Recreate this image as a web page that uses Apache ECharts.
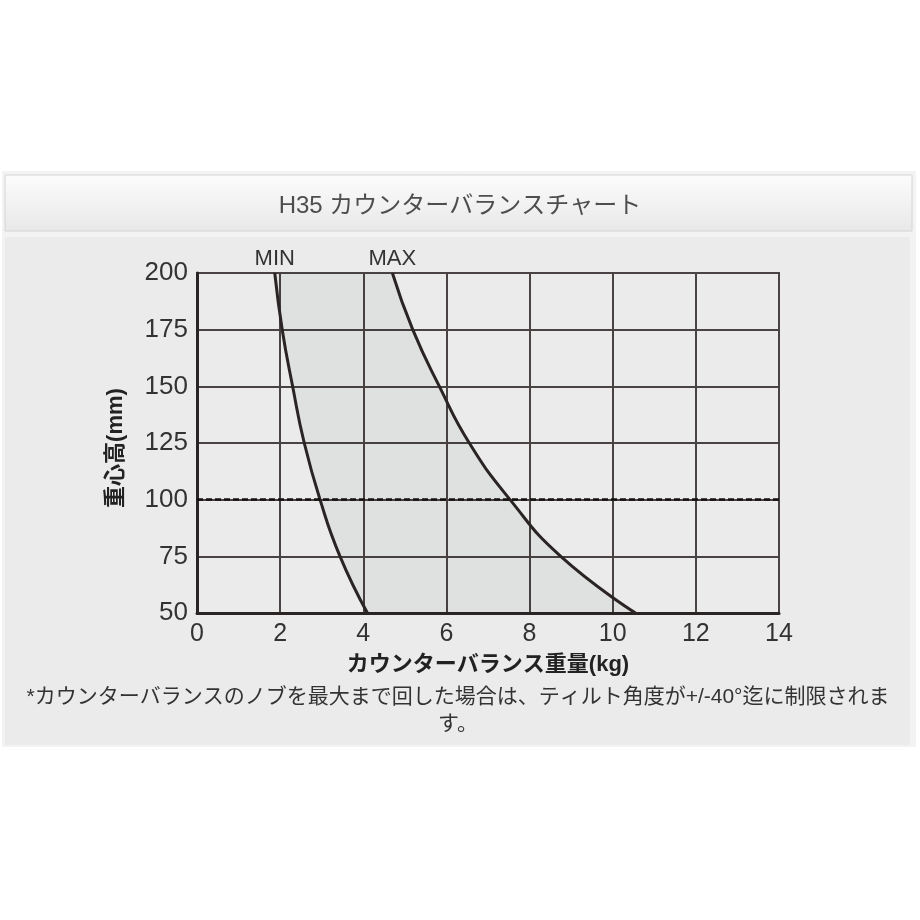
<!DOCTYPE html>
<html>
<head>
<meta charset="utf-8">
<script src="https://cdn.jsdelivr.net/npm/echarts@6/dist/echarts.min.js"></script>
<style>
  html, body { margin: 0; padding: 0; background: #ffffff; }
  #main { width: 920px; height: 920px; }
</style>
</head>
<body>
<div id="main"></div>
<script>
// 重心高 (mm) - y axis categories, bottom to top
var heights = ['50', '75', '100', '125', '150', '175', '200'];
// カウンターバランス重量 (kg) for each height
var minWeight = [4.1, 3.44, 2.96, 2.58, 2.3, 2.05, 1.87];
var maxWeight = [10.55, 8.75, 7.53, 6.55, 5.83, 5.19, 4.7];
var xTicks = [0, 14, 2]; // min, max, interval
var limitHeight = '100';

var noteText = '*カウンターバランスのノブを最大まで回した場合は、ティルト角度が+/-40°迄に制限されま\nす。';
var font = "'Liberation Sans', 'Noto Sans CJK JP', sans-serif";

// band between the two curves, stacked on MIN
var bandWidth = maxWeight.map(function (v, i) { return +(v - minWeight[i]).toFixed(3); });

var myChart = echarts.init(document.getElementById('main'));
var option = {
    animation: false,
    backgroundColor: '#ffffff',
    textStyle: { fontFamily: font },
    title: {
        text: 'H35 カウンターバランスチャート',
        left: 'center',
        top: 189,
        textStyle: { fontFamily: font, fontSize: 24, fontWeight: 'normal', color: '#4d4d4d' }
    },
    graphic: {
        elements: [
            { type: 'rect', z: -10, shape: { x: 2, y: 171, width: 914, height: 576 }, style: { fill: '#f3f3f3' } },
            {
                type: 'rect', z: -9, shape: { x: 5, y: 175, width: 907, height: 56 },
                style: {
                    fill: new echarts.graphic.LinearGradient(0, 0, 0, 1, [
                        { offset: 0, color: '#fcfcfc' },
                        { offset: 1, color: '#e8e8e8' }
                    ]),
                    stroke: '#d4d4d4', lineWidth: 1
                }
            },
            { type: 'rect', z: -9, shape: { x: 5, y: 237, width: 905, height: 508 }, style: { fill: '#ebebeb' } },
            {
                type: 'text', z: 10, x: 458, y: 684,
                style: {
                    text: noteText, textAlign: 'center', fontFamily: font,
                    fontSize: 21, lineHeight: 27, fill: '#333333'
                }
            }
        ]
    },
    grid: {
        left: 197, right: 141, top: 273, bottom: 307,
        show: true, borderColor: '#4a4444', borderWidth: 2, backgroundColor: 'transparent'
    },
    xAxis: {
        type: 'value',
        min: xTicks[0], max: xTicks[1], interval: xTicks[2],
        name: 'カウンターバランス重量(kg)',
        nameLocation: 'middle', nameGap: 41,
        nameTextStyle: { fontFamily: font, fontSize: 22, fontWeight: 'bold', color: '#222' },
        axisLine: { show: true, lineStyle: { color: '#2b2424', width: 3 } },
        axisTick: { show: false },
        axisLabel: { fontSize: 25, color: '#333', margin: 9, fontFamily: font },
        splitLine: { show: true, lineStyle: { color: '#4a4343', width: 2 } }
    },
    yAxis: {
        type: 'category',
        data: heights,
        boundaryGap: false,
        name: '重心高(mm)',
        nameLocation: 'middle', nameGap: 70,
        nameTextStyle: { fontFamily: font, fontSize: 22, fontWeight: 'bold', color: '#222', padding: [0, 10, 0, 0] },
        axisLine: { show: true, lineStyle: { color: '#2b2424', width: 3 } },
        axisTick: { show: false },
        axisLabel: { fontSize: 26, color: '#333', margin: 9, fontFamily: font, interval: 0 },
        splitLine: { show: true, interval: 0, lineStyle: { color: '#4a4343', width: 2 } }
    },
    series: [
        {
            name: 'MIN',
            type: 'line',
            stack: 'range',
            smooth: 0.5,
            symbol: 'none',
            data: minWeight,
            lineStyle: { color: '#2b2424', width: 3 },
            endLabel: { show: true, formatter: 'MIN', fontSize: 22, color: '#333', distance: 3, fontFamily: font },
            markLine: {
                silent: true,
                symbol: 'none',
                label: { show: false },
                lineStyle: { color: '#151111', width: 2.5, type: [6, 3] },
                data: [{ yAxis: limitHeight }]
            }
        },
        {
            name: 'MAX',
            type: 'line',
            stack: 'range',
            smooth: 0.5,
            symbol: 'none',
            data: bandWidth,
            lineStyle: { color: '#2b2424', width: 3 },
            areaStyle: { color: 'rgba(0, 20, 20, 0.065)' },
            endLabel: { show: true, formatter: 'MAX', fontSize: 22, color: '#333', distance: 3, fontFamily: font }
        }
    ]
};
myChart.setOption(option);
</script>
</body>
</html>
